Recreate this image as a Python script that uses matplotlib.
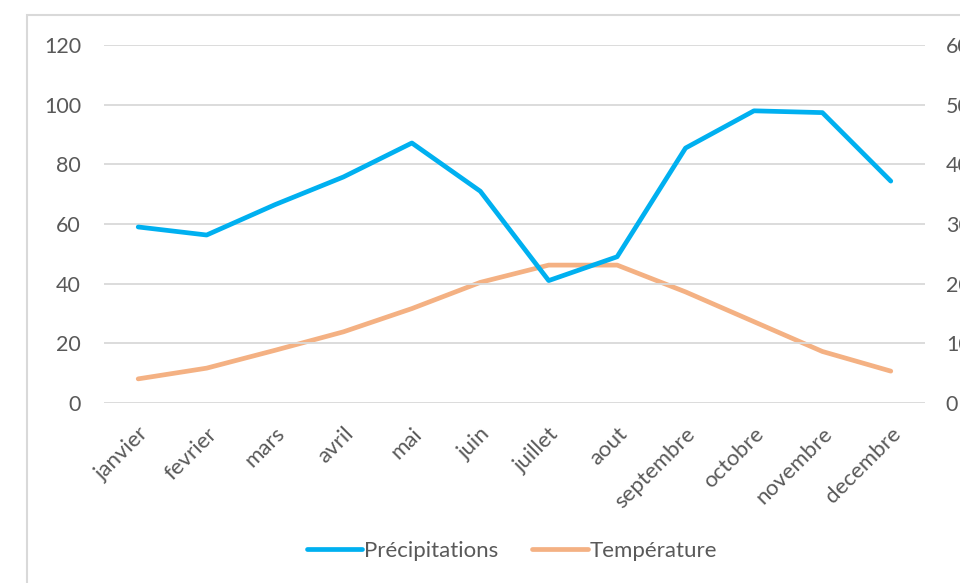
import matplotlib.pyplot as plt
from matplotlib.patches import Rectangle

plt.rcParams['font.family'] = ['Lato', 'DejaVu Sans']

# monthly climate data
mois = ['janvier', 'fevrier', 'mars', 'avril', 'mai', 'juin', 'juillet',
        'aout', 'septembre', 'octobre', 'novembre', 'decembre']
precipitations = [59, 56.3, 66.5, 75.8, 87.2, 71, 41, 49, 85.5, 98, 97.4, 74.4]
temperature = [4.0, 5.8, 8.8, 11.9, 15.8, 20.2, 23.1, 23.1, 18.6, 13.6, 8.6, 5.3]

left_ticks = [0, 20, 40, 60, 80, 100, 120]
right_ticks = [0, 10, 20, 30, 40, 50, 60]

W, H = 960, 583
fig = plt.figure(figsize=(W / 100, H / 100), dpi=100)

# chart frame (cut off on right and bottom)
fig.patches.append(Rectangle((26.5 / W, -0.1), 2, 1.1 - 15.5 / H,
                             transform=fig.transFigure, fill=False,
                             edgecolor='#d9d9d9', linewidth=1.5))

ax = fig.add_axes([104 / W, 1 - 402.7 / H, (925 - 104) / W, (402.7 - 45.3) / H])
ax2 = ax.twinx()

x = list(range(len(mois)))
l1, = ax.plot(x, precipitations, color='#00b0f0', linewidth=3.4,
              solid_capstyle='round', solid_joinstyle='round', label='Précipitations')
l2, = ax2.plot(x, temperature, color='#f4b183', linewidth=3.4,
               solid_capstyle='round', solid_joinstyle='round', label='Température')
ax2.set_zorder(ax.get_zorder() - 1)
ax.patch.set_visible(False)
ax.set_zorder(2)

ax.set_xlim(-0.5, 11.5)
ax.set_ylim(0, 120)
ax2.set_ylim(0, 60)
ax.set_yticks(left_ticks)
ax2.set_yticks(right_ticks)
ax.grid(axis='y', color='#d9d9d9', linewidth=1.3)
ax.set_axisbelow(True)

for a in (ax, ax2):
    for s in a.spines.values():
        s.set_visible(False)
    a.tick_params(axis='y', length=0, labelsize=15.5, labelcolor='#595959')
ax.tick_params(axis='y', pad=16.5)
ax2.tick_params(axis='y', pad=15)
ax.tick_params(axis='x', length=0, pad=15, labelsize=16, labelcolor='#595959')

ax.set_xticks(x)
ax.set_xticklabels(mois, rotation=45, ha='right', va='top', rotation_mode='anchor')

fig.legend(handles=[l1, l2], loc='center', bbox_to_anchor=(512 / W, 1 - 551 / H),
           ncol=2, frameon=False, fontsize=16, handlelength=2.5, handletextpad=0.1,
           columnspacing=1.5, labelcolor='#595959')

fig.savefig('out.png', dpi=100)
